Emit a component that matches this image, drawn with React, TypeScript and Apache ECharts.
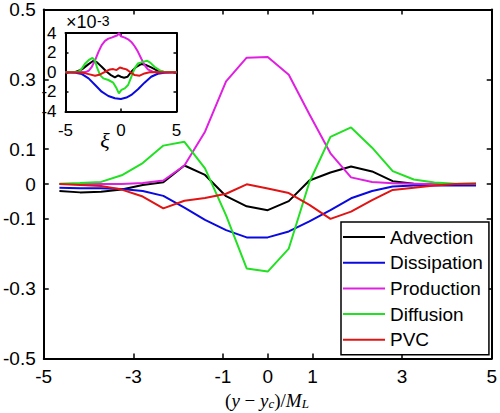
import React, { useEffect, useRef } from 'react';
import * as echarts from 'echarts';

// ---- main panel data ----
const xPos = [-4.65, -4.19, -3.72, -3.26, -2.79, -2.33, -1.86, -1.4, -0.93, -0.47, 0, 0.47, 0.93, 1.4, 1.86, 2.33, 2.79, 3.26, 3.72, 4.19, 4.65];
const advection = [-0.02, -0.024, -0.022, -0.016, -0.003, 0.005, 0.053, 0.026, -0.035, -0.064, -0.075, -0.049, 0.01, 0.033, 0.05, 0.036, 0.008, 0.001, 0.0, 0.0, 0.001];
const dissipation = [-0.011, -0.012, -0.012, -0.014, -0.02, -0.034, -0.068, -0.103, -0.132, -0.153, -0.153, -0.136, -0.107, -0.075, -0.041, -0.02, -0.007, -0.004, -0.004, -0.004, -0.004];
const production = [0, 0, 0, 0, 0.003, 0.01, 0.053, 0.15, 0.294, 0.362, 0.364, 0.313, 0.2, 0.088, 0.019, 0.006, 0.002, 0.001, 0, 0, 0];
const diffusion = [0.001, 0.003, 0.006, 0.025, 0.06, 0.11, 0.121, 0.045, -0.09, -0.242, -0.251, -0.185, 0.005, 0.135, 0.162, 0.104, 0.037, 0.013, 0.004, 0.001, 0.001];
const pvc = [0.0, -0.003, -0.006, -0.016, -0.036, -0.07, -0.048, -0.04, -0.028, -0.001, -0.013, -0.026, -0.06, -0.1, -0.079, -0.046, -0.017, -0.011, -0.004, 0.0, 0.001];

// ---- inset data (x, value in units of 1e-3) ----
const insetAdvection: number[][] = [[-5, 0], [-4.11, 0.03], [-3.52, 0.29], [-2.92, 0.83], [-2.48, 1.17], [-2.18, 1.03], [-1.74, 0.56], [-1.29, 0.05], [-0.91, -0.29], [-0.55, -0.52], [-0.25, -0.32], [-0.01, -0.46], [0.28, -0.56], [0.58, -0.46], [0.93, 0.05], [1.38, 0.56], [1.82, 0.83], [2.27, 0.73], [2.72, 0.49], [3.31, 0.15], [3.9, 0.03], [5, 0]];
const insetDissipation: number[][] = [[-5, 0], [-4.11, -0.05], [-3.52, -0.19], [-2.92, -0.62], [-2.33, -1.3], [-1.74, -1.98], [-1.14, -2.42], [-0.55, -2.65], [-0.01, -2.72], [0.49, -2.58], [0.93, -2.31], [1.53, -1.74], [2.12, -1.06], [2.72, -0.46], [3.31, -0.15], [3.9, -0.05], [5, 0]];
const insetProduction: number[][] = [[-5, 0], [-3.5, 0], [-3.2, 0.02], [-2.92, 0.15], [-2.63, 0.56], [-2.33, 1.23], [-2.03, 2.08], [-1.74, 2.76], [-1.44, 3.2], [-1.14, 3.43], [-0.85, 3.53], [-0.55, 3.67], [-0.31, 3.77], [-0.19, 4.0], [-0.01, 3.67], [0.34, 3.53], [0.64, 3.36], [0.93, 3.09], [1.23, 2.65], [1.53, 2.08], [1.82, 1.4], [2.12, 0.73], [2.42, 0.29], [2.86, 0.05], [3.31, 0], [5, 0]];
const insetDiffusion: number[][] = [[-5, 0], [-4.11, 0], [-3.81, 0.08], [-3.52, 0.39], [-3.22, 0.9], [-2.92, 1.23], [-2.57, 1.47], [-2.33, 1.17], [-2.18, 0.56], [-1.88, -0.29], [-1.59, -0.62], [-1.14, -0.79], [-0.7, -1.06], [-0.4, -1.64], [-0.19, -2.15], [0.04, -1.8], [0.34, -1.64], [0.64, -1.3], [0.93, -0.46], [1.23, 0.39], [1.53, 0.9], [1.97, 1.06], [2.36, 1.17], [2.66, 0.96], [3.01, 0.56], [3.46, 0.22], [3.9, 0.02], [5, 0]];
const insetPvc: number[][] = [[-5, 0], [-3.52, -0.03], [-2.92, -0.19], [-2.33, -0.35], [-1.88, -0.22], [-1.44, 0.05], [-0.99, 0.29], [-0.7, 0.32], [-0.4, 0.22], [-0.1, 0.49], [0.19, 0.39], [0.49, 0.29], [0.79, 0.05], [1.23, -0.29], [1.68, -0.35], [2.12, -0.12], [2.57, 0], [5, 0]];

const seriesNames = ['Advection', 'Dissipation', 'Production', 'Diffusion', 'PVC'];
const seriesColors = ['#000000', '#0a0ae0', '#e020e0', '#22e022', '#e01414'];

const xTicks = [-5, -3, -1, 0, 1, 3, 5];
const yTicks = [-0.5, -0.3, -0.1, 0, 0.1, 0.3, 0.5];
const insetXTicks = [-5, 0, 5];
const insetYTicks = [-4, -2, 0, 2, 4];

const SANS = 'Liberation Sans, Arial, Helvetica, sans-serif';
const SERIF = 'Liberation Serif, Times New Roman, serif';

export default function App() {
  const ref = useRef<HTMLDivElement>(null);

  useEffect(() => {
    if (!ref.current) return;
    const chart = echarts.init(ref.current, null, { renderer: 'svg' });

    const mainData = [advection, dissipation, production, diffusion, pvc];
    const insetData = [insetAdvection, insetDissipation, insetProduction, insetDiffusion, insetPvc];

    const axisLine = { show: true, onZero: false, lineStyle: { color: '#000', width: 2 } };
    const mkAxis = (opts: any) => ({
      type: 'value',
      splitLine: { show: false },
      axisLine,
      ...opts,
    });

    const option: any = {
      animation: false,
      backgroundColor: '#fff',
      grid: [
        { left: 41.5, top: 6, width: 453, height: 352.5, show: false },
        { left: 65.5, top: 33, width: 111, height: 78.5, show: true, backgroundColor: '#fff', borderWidth: 0 },
      ],
      xAxis: [
        mkAxis({
          gridIndex: 0, position: 'bottom', min: -5, max: 5,
          axisTick: { show: true, inside: true, length: 5, lineStyle: { color: '#000', width: 1.5 }, customValues: xTicks },
          axisLabel: { show: true, customValues: xTicks, color: '#000', fontSize: 19, fontFamily: SANS, margin: 8 },
        }),
        mkAxis({
          gridIndex: 0, position: 'top', min: -5, max: 5,
          axisTick: { show: true, inside: true, length: 5, lineStyle: { color: '#000', width: 1.5 }, customValues: xTicks },
          axisLabel: { show: false, customValues: xTicks },
        }),
        mkAxis({
          gridIndex: 1, position: 'bottom', min: -5, max: 5,
          axisTick: { show: true, inside: true, length: 3, lineStyle: { color: '#000', width: 1.5 }, customValues: insetXTicks },
          axisLabel: { show: true, customValues: insetXTicks, color: '#000', fontSize: 17, fontFamily: SANS, margin: 10 },
        }),
        mkAxis({
          gridIndex: 1, position: 'top', min: -5, max: 5,
          axisTick: { show: true, inside: true, length: 3, lineStyle: { color: '#000', width: 1.5 }, customValues: insetXTicks },
          axisLabel: { show: false, customValues: insetXTicks },
        }),
      ],
      yAxis: [
        mkAxis({
          gridIndex: 0, position: 'left', min: -0.5, max: 0.5,
          axisTick: { show: true, inside: true, length: 5, lineStyle: { color: '#000', width: 1.5 }, customValues: yTicks },
          axisLabel: { show: true, customValues: yTicks, color: '#000', fontSize: 19, fontFamily: SANS, margin: 8 },
        }),
        mkAxis({
          gridIndex: 0, position: 'right', min: -0.5, max: 0.5,
          axisTick: { show: true, inside: true, length: 5, lineStyle: { color: '#000', width: 1.5 }, customValues: yTicks },
          axisLabel: { show: false, customValues: yTicks },
        }),
        mkAxis({
          gridIndex: 1, position: 'left', min: -4, max: 4,
          axisTick: { show: true, inside: true, length: 3, lineStyle: { color: '#000', width: 1.5 }, customValues: insetYTicks },
          axisLabel: { show: true, customValues: insetYTicks, color: '#000', fontSize: 17, fontFamily: SANS, margin: 9 },
        }),
        mkAxis({
          gridIndex: 1, position: 'right', min: -4, max: 4,
          axisTick: { show: true, inside: true, length: 3, lineStyle: { color: '#000', width: 1.5 }, customValues: insetYTicks },
          axisLabel: { show: false, customValues: insetYTicks },
        }),
      ],
      legend: {
        data: seriesNames,
        orient: 'vertical',
        left: 341,
        top: 222,
        icon: 'rect',
        itemWidth: 42,
        itemHeight: 2,
        itemGap: 5.7,
        padding: [5, 6, 5, 2],
        borderColor: '#000',
        borderWidth: 1.5,
        backgroundColor: '#fff',
        textStyle: { color: '#000', fontSize: 19, fontFamily: SANS, lineHeight: 20 },
      },
      series: [
        ...seriesNames.map((name, i) => ({
          name,
          type: 'line',
          xAxisIndex: 0,
          yAxisIndex: 0,
          data: xPos.map((x, k) => [x, mainData[i][k]]),
          showSymbol: false,
          symbol: 'none',
          color: seriesColors[i],
          lineStyle: { color: seriesColors[i], width: 2 },
          z: 3,
        })),
        ...seriesNames.map((name, i) => ({
          name: name + ' inset',
          type: 'line',
          xAxisIndex: 2,
          yAxisIndex: 2,
          data: insetData[i],
          showSymbol: false,
          symbol: 'none',
          color: seriesColors[i],
          lineStyle: { color: seriesColors[i], width: 2 },
          z: 3,
        })),
      ],
      graphic: [
        {
          type: 'text',
          x: 267,
          y: 400,
          style: {
            text: '{n|(}{i|y}{n| − }{i|y}{s|c}{n|)/}{i|M}{s|L}',
            align: 'center',
            verticalAlign: 'middle',
            rich: {
              n: { fontFamily: SERIF, fontSize: 19, lineHeight: 20, fill: '#000', verticalAlign: 'bottom' },
              i: { fontFamily: SERIF, fontStyle: 'italic', fontSize: 19, lineHeight: 20, fill: '#000', verticalAlign: 'bottom' },
              s: { fontFamily: SERIF, fontStyle: 'italic', fontSize: 13, lineHeight: 13, fill: '#000', verticalAlign: 'bottom' },
            },
          },
        },
        {
          type: 'text',
          x: 105,
          y: 140,
          style: {
            text: 'ξ',
            fontFamily: SERIF,
            fontStyle: 'italic',
            fontSize: 22,
            fill: '#000',
            align: 'center',
            verticalAlign: 'middle',
          },
        },
        {
          type: 'text',
          x: 66,
          y: 31,
          style: {
            text: '×10',
            fontFamily: SANS,
            fontSize: 18,
            fill: '#000',
            align: 'left',
            verticalAlign: 'bottom',
          },
        },
        {
          type: 'text',
          x: 97,
          y: 14,
          style: {
            text: '-3',
            fontFamily: SANS,
            fontSize: 14,
            fill: '#000',
            align: 'left',
            verticalAlign: 'top',
          },
        },
      ],
    };

    chart.setOption(option);
    return () => chart.dispose();
  }, []);

  return (
    <div
      ref={ref}
      style={{ position: 'fixed', left: 0, top: 0, width: 500, height: 413, background: '#fff' }}
    />
  );
}
